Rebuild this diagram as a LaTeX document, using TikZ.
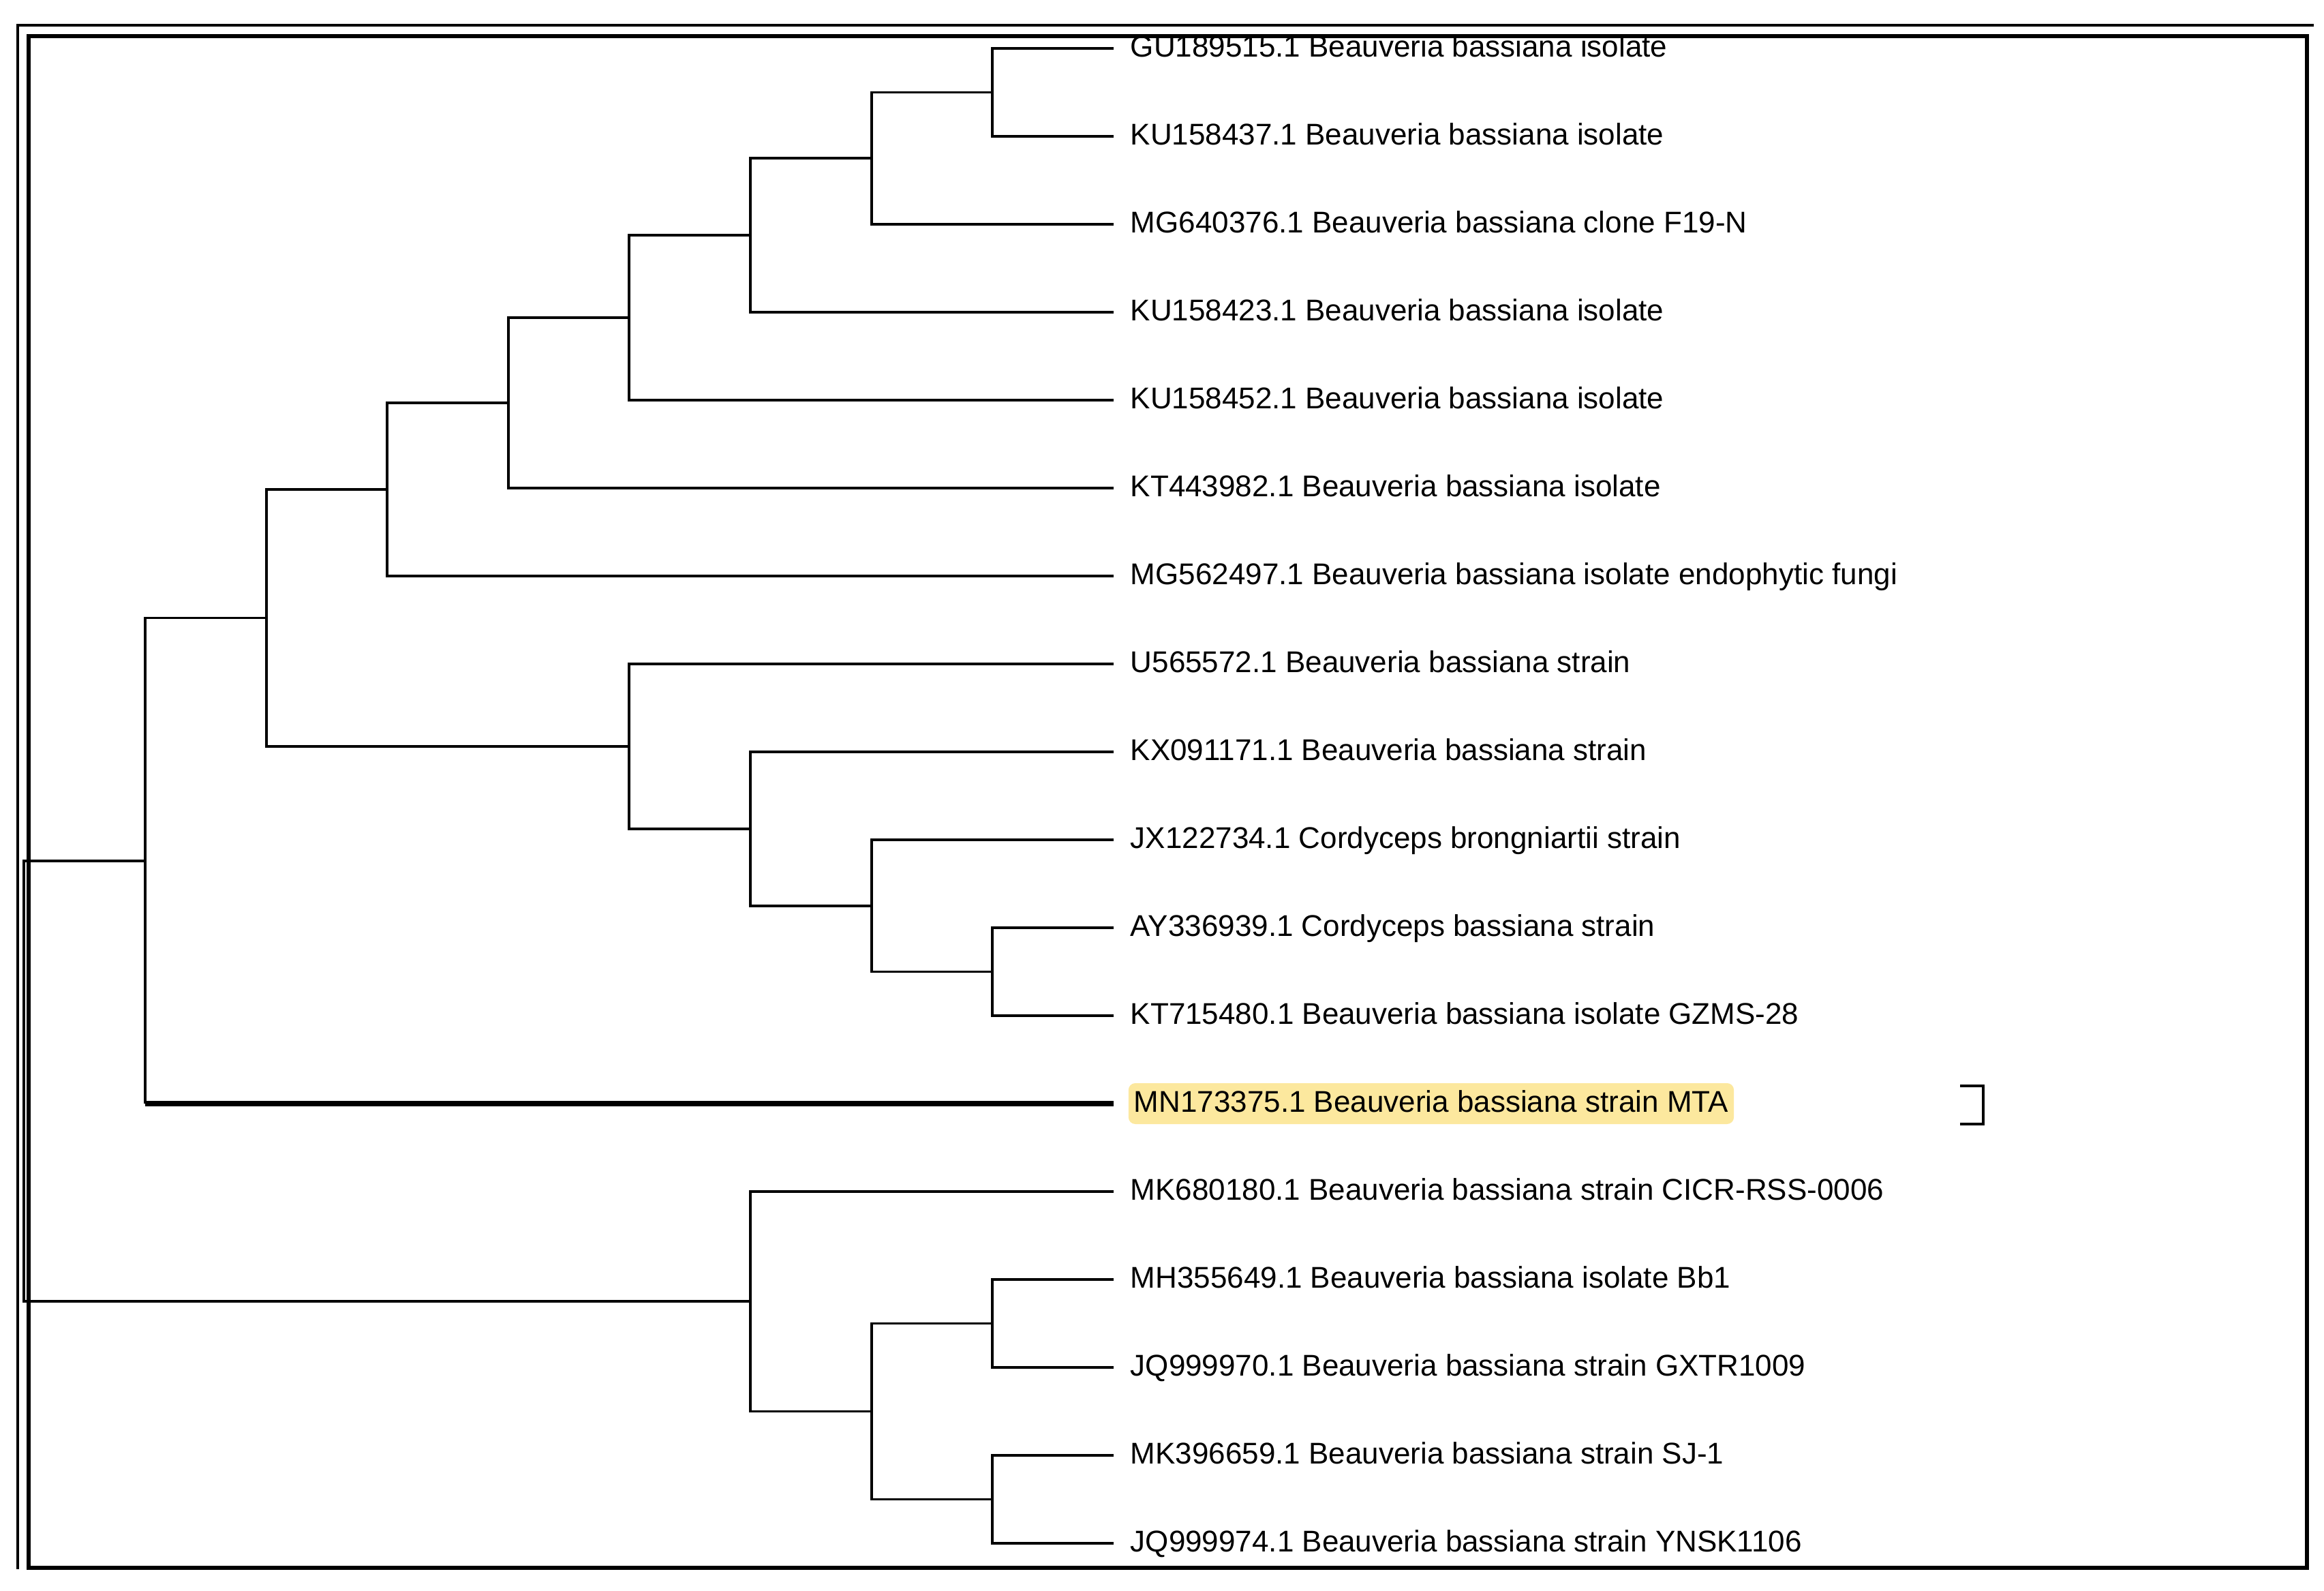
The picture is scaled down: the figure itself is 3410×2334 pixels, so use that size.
\documentclass[tikz,border=0pt]{standalone}
\usepackage{fontspec}
\setmainfont{Liberation Sans}
\usetikzlibrary{positioning}
\definecolor{mtafill}{RGB}{252,232,158}

\begin{document}
\begin{tikzpicture}[x=0.25pt, y=-0.25pt,
        branch/.style={line width=0.9pt},
        mtabranch/.style={line width=1.8pt},
        leaf/.style={inner sep=0pt, text height=9pt, text depth=2.6pt, font=\fontsize{11}{13}\selectfont}]%
    \useasboundingbox (0,0) rectangle (3410,2334);
    \begin{scope}[yshift=-17.75pt, y=-32.25pt]
        \foreach \i in {0,...,17} {
            \coordinate (t\i) at (1634,\i);
        }
        \foreach \i/\txt in {0/GU189515.1 Beauveria bassiana isolate,
                1/KU158437.1 Beauveria bassiana isolate,
                2/MG640376.1 Beauveria bassiana clone F19-N,
                3/KU158423.1 Beauveria bassiana isolate,
                4/KU158452.1 Beauveria bassiana isolate,
                5/KT443982.1 Beauveria bassiana isolate,
                6/MG562497.1 Beauveria bassiana isolate endophytic fungi,
                7/U565572.1 Beauveria bassiana strain,
                8/KX091171.1 Beauveria bassiana strain,
                9/JX122734.1 Cordyceps brongniartii strain,
                10/AY336939.1 Cordyceps bassiana strain,
                11/KT715480.1 Beauveria bassiana isolate GZMS-28,
                13/MK680180.1 Beauveria bassiana strain CICR-RSS-0006,
                14/MH355649.1 Beauveria bassiana isolate Bb1,
                15/JQ999970.1 Beauveria bassiana strain GXTR1009,
                16/MK396659.1 Beauveria bassiana strain SJ-1,
                17/JQ999974.1 Beauveria bassiana strain YNSK1106} {
            \node [leaf, right=6pt of t\i] (l\i) {\txt};
        }
        \node [leaf, fill=mtafill, rounded corners=2.5pt, inner xsep=2pt, inner ysep=1.7pt, right=5.25pt of t12] (l12) {MN173375.1 Beauveria bassiana strain MTA};
        % clade A
        \coordinate (n1) at (1456,0.5);\coordinate (n2) at (1279,1.25);
        \coordinate (n3) at (1101,2.125);\coordinate (n4) at (923,3.0625);
        \coordinate (n5) at (746,4.03125);\coordinate (n6) at (568,5.015625);
        % clade B
        \coordinate (m1) at (1456,10.5);\coordinate (m2) at (1279,9.75);
        \coordinate (m3) at (1101,8.875);\coordinate (m4) at (923,7.9375);
        \coordinate (ab) at (391,6.4765625);\coordinate (abm) at (213,9.23828125);
        % clade C
        \coordinate (c1) at (1456,14.5);\coordinate (c2) at (1456,16.5);
        \coordinate (c3) at (1279,15.5);\coordinate (c4) at (1101,14.25);
        \coordinate (root) at (35,11.744140625);
        \draw [branch] (n1) |- (t0) (n1) |- (t1);
        \draw [branch] (n2) |- (n1) (n2) |- (t2);
        \draw [branch] (n3) |- (n2) (n3) |- (t3);
        \draw [branch] (n4) |- (n3) (n4) |- (t4);
        \draw [branch] (n5) |- (n4) (n5) |- (t5);
        \draw [branch] (n6) |- (n5) (n6) |- (t6);
        \draw [branch] (m1) |- (t10) (m1) |- (t11);
        \draw [branch] (m2) |- (t9) (m2) |- (m1);
        \draw [branch] (m3) |- (t8) (m3) |- (m2);
        \draw [branch] (m4) |- (t7) (m4) |- (m3);
        \draw [branch] (ab) |- (n6) (ab) |- (m4);
        \draw [branch] (abm) |- (ab) (abm) -- (abm |- t12);
        \draw [mtabranch] (abm |- t12) -- (t12);
        \draw [branch] (c1) |- (t14) (c1) |- (t15);
        \draw [branch] (c2) |- (t16) (c2) |- (t17);
        \draw [branch] (c3) |- (c1) (c3) |- (c2);
        \draw [branch] (c4) |- (t13) (c4) |- (c3);
        \draw [branch] (root) |- (abm) (root) |- (c4);
    \end{scope}
    \draw [line width=1pt] (2876,1593) -| (2910,1649) -- (2876,1649);
    \draw [line width=1pt] (3395,37) -- (26,37) -- (26,2302);
    \draw [line width=1.3pt] (42,53) rectangle (3385,2300);
\end{tikzpicture}
\end{document}
